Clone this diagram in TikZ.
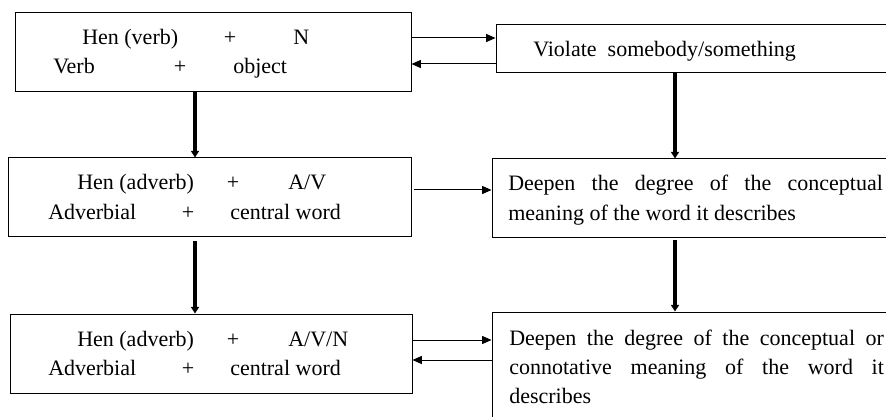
\documentclass[tikz,border=0pt]{standalone}
\usepackage{fontspec}
\setmainfont{Liberation Serif}
\usetikzlibrary{arrows.meta,positioning}

\tikzset{
  box/.style={draw, line width=0.75pt, inner sep=0pt},
  txt/.style={inner sep=0pt, font=\fontsize{16.5}{22}\selectfont},
  para/.style={txt, text width=281pt, align=justify, anchor=base west},
  thinarrow/.style={line width=0.75pt, -{Triangle[length=7pt,width=6pt]}},
  thickarrow/.style={line width=3pt, -{Triangle[length=5pt,width=6pt]}}
}

\begin{document}
\begin{tikzpicture}[x=0.75pt, y=-0.75pt]
\useasboundingbox (0,0) rectangle (886,417);
\clip (0,0) rectangle (886,417);

% left boxes
\node[box, minimum width=297pt, minimum height=59.25pt] (l1) at (213,52.5) {};
\node[box, minimum width=302.25pt, minimum height=59.25pt] (l2) at (209.5,197.5) {};
\node[box, minimum width=301.5pt, minimum height=59.25pt] (l3) at (211,353.5) {};

% right boxes (cut off at the right)
\node[box, minimum width=303pt, minimum height=36pt] (r1) at (698,49) {};
\node[box, minimum width=306pt, minimum height=59.25pt] (r2) at (696,198.5) {};
\node[box, minimum width=306pt, minimum height=88.5pt] (r3) at (696,371) {};

% texts of the left boxes
\node[txt, anchor=base west] (l1a) at (82,45) {Hen (verb)};
\node[txt, anchor=base] (l1b) at (230,45) {+};
\node[txt, anchor=base west] (l1c) at (293,45) {N};
\node[txt, anchor=base west] (l1d) at (53,74) {Verb};
\node[txt, anchor=base] (l1e) at (180,74) {+};
\node[txt, anchor=base west] (l1f) at (233,74) {object};

\node[txt, anchor=base west] (l2a) at (77,190) {Hen (adverb)};
\node[txt, anchor=base] (l2b) at (233,190) {+};
\node[txt, anchor=base west] (l2c) at (288,190) {A/V};
\node[txt, anchor=base west] (l2d) at (48,220) {Adverbial};
\node[txt, anchor=base] (l2e) at (188,220) {+};
\node[txt, anchor=base west] (l2f) at (230,220) {central word};

\node[txt, anchor=base west] (l3a) at (77,346) {Hen (adverb)};
\node[txt, anchor=base] (l3b) at (233,346) {+};
\node[txt, anchor=base west] (l3c) at (288,346) {A/V/N};
\node[txt, anchor=base west] (l3d) at (48,375) {Adverbial};
\node[txt, anchor=base] (l3e) at (188,375) {+};
\node[txt, anchor=base west] (l3f) at (230,375) {central word};

% texts of the right boxes
\node[txt, anchor=base west] (r1a) at (533,57) {Violate\ \ somebody/something};
\node[para] (r2a) at (508,191) {Deepen the degree of the conceptual\linebreak meaning of the word it describes};
\node[para] (r3a) at (509,345) {Deepen the degree of the conceptual or\linebreak connotative meaning of the word it\linebreak describes};

% levels of the connectors
\coordinate (y1) at (0,38);
\coordinate (y2) at (0,64);
\coordinate (y3) at (0,190);
\coordinate (y4) at (0,340);
\coordinate (y5) at (0,360);
\coordinate (xl) at (195,0);
\coordinate (xr) at (675,0);

\draw[thinarrow] (l1.east |- y1) -- (r1.west |- y1);
\draw[thinarrow] (r1.west |- y2) -- (l1.east |- y2);
\draw[thinarrow] ([xshift=1.5pt]l2.east |- y3) -- (r2.west |- y3);
\draw[thinarrow] (l3.east |- y4) -- (r3.west |- y4);
\draw[thinarrow] (r3.west |- y5) -- (l3.east |- y5);

\draw[thickarrow] (l1.south -| xl) -- (l2.north -| xl);
\draw[thickarrow] ([yshift=-3pt]l2.south -| xl) -- (l3.north -| xl);
\draw[thickarrow] (r1.south -| xr) -- (r2.north -| xr);
\draw[thickarrow] ([yshift=-1.5pt]r2.south -| xr) -- (r3.north -| xr);
\end{tikzpicture}
\end{document}
